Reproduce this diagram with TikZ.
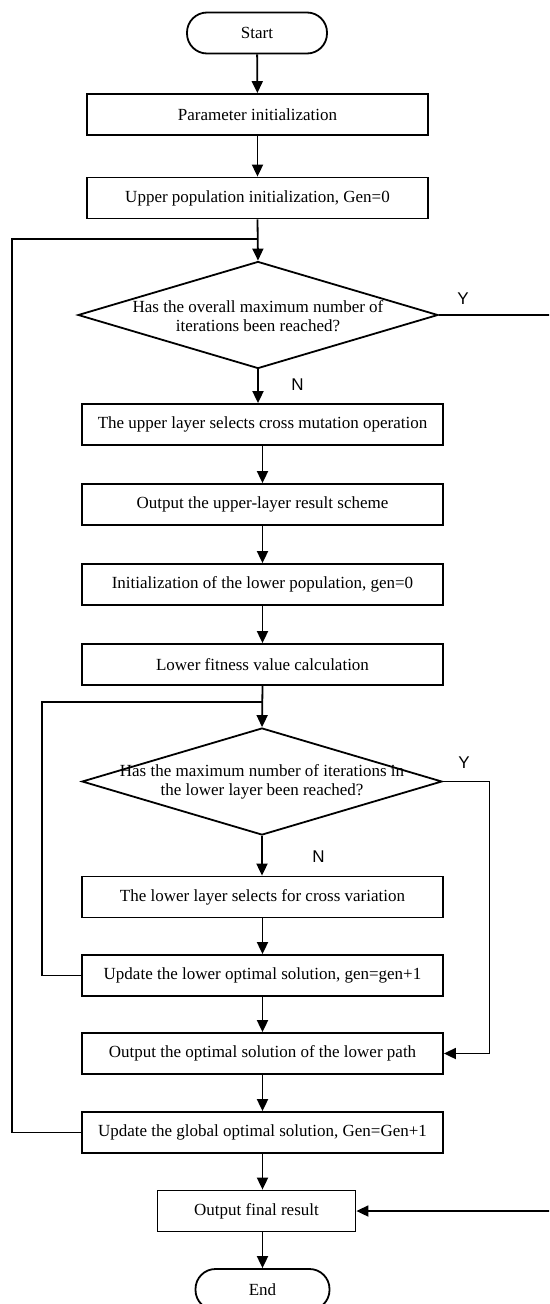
\documentclass[tikz,border=0pt]{standalone}
\usepackage{fontspec}
\setmainfont{Liberation Serif}
\newfontfamily\ynfont{Liberation Sans}
\usetikzlibrary{arrows.meta,shapes.geometric}
\begin{document}
\begin{tikzpicture}[x=1pt,y=-1pt,
  every node/.style={font=\fontsize{17}{19.5}\selectfont},
  stepbox/.style={draw, line width=1.8pt, minimum width=361pt, minimum height=41pt, inner sep=0pt},
  termbox/.style={draw, line width=1.8pt, rounded corners=20pt, minimum width=140pt, minimum height=41pt, inner sep=0pt},
  decbox/.style={draw, diamond, line width=1.8pt, minimum width=360pt, minimum height=107pt, inner sep=0pt},
  dectext/.style={align=center, inner sep=0pt},
  yn/.style={font=\ynfont\fontsize{17}{19}\selectfont, inner sep=0pt},
  conn/.style={line width=1.8pt},
  arr/.style={conn, -{Triangle[length=12pt,width=11pt]}}
]
\useasboundingbox (0,0) rectangle (549,1304);
\clip (0,0) rectangle (549,1304);

\node[termbox] (start) at (257,33) {Start};
\node[stepbox, minimum width=341pt] (param) at (257.5,114.5) {Parameter initialization};
\node[stepbox, minimum width=341pt] (upinit) at (257.5,198) {Upper population initialization, Gen=0};
\node[decbox] (d1) at (258,315) {};
\node[dectext] (d1t) at (258,316) {Has the overall maximum number of\\iterations been reached?};
\node[stepbox] (b1) at (262.5,424.5) {The upper layer selects cross mutation operation};
\node[stepbox] (b2) at (262.5,504.5) {Output the upper-layer result scheme};
\node[stepbox] (b3) at (262.5,584.5) {Initialization of the lower population, gen=0};
\node[stepbox] (b4) at (262.5,664.5) {Lower fitness value calculation};
\node[decbox] (d2) at (262,781.5) {};
\node[dectext] (d2t) at (262,782) {Has the maximum number of iterations in\\the lower layer been reached?};
\node[stepbox] (b5) at (262.5,897) {The lower layer selects for cross variation};
\node[stepbox] (b6) at (262.5,975.5) {Update the lower optimal solution, gen=gen+1};
\node[stepbox] (b7) at (262.5,1053.5) {Output the optimal solution of the lower path};
\node[stepbox] (b8) at (262.5,1132.5) {Update the global optimal solution, Gen=Gen+1};
\node[stepbox, minimum width=198pt] (final) at (256.5,1211) {Output final result};
\node[termbox, minimum width=134pt] (end) at (262.5,1289.5) {End};

\node[yn] (y1) at (463,299) {Y};
\node[yn] (n1) at (297.6,385) {N};
\node[yn] (y2) at (464,763) {Y};
\node[yn] (n2) at (318.6,857) {N};

\coordinate (j1) at (258,239);
\coordinate (l1) at (12.3,239);
\coordinate (j2) at (262.5,702);
\coordinate (l2) at (42,702);
\coordinate (r1) at (560,315);
\coordinate (r2) at (489.5,781.5);

\draw[arr] (start) -- (param);
\draw[arr] (param) -- (upinit);
\draw[arr] (upinit.south) -- (d1.north);
\draw[conn] (b8.west) -| (l1) -- (j1);
\draw[arr] (d1.south) -- (d1.south |- b1.north);
\draw[conn] (d1.east) -- (r1);
\draw[arr] (r1) |- (final.east);
\draw[arr] (b1) -- (b2);
\draw[arr] (b2) -- (b3);
\draw[arr] (b3) -- (b4);
\draw[arr] (b4.south) -- (d2.north);
\draw[conn] (b6.west) -| (l2) -- (j2);
\draw[arr] (d2.south) -- (d2.south |- b5.north);
\draw[conn] (d2.east) -- (r2);
\draw[arr] (r2) |- (b7.east);
\draw[arr] (b5) -- (b6);
\draw[arr] (b6) -- (b7);
\draw[arr] (b7) -- (b8);
\draw[arr] (b8.south) -- (b8.south |- final.north);
\draw[arr] (end.north |- final.south) -- (end.north);
\end{tikzpicture}
\end{document}
